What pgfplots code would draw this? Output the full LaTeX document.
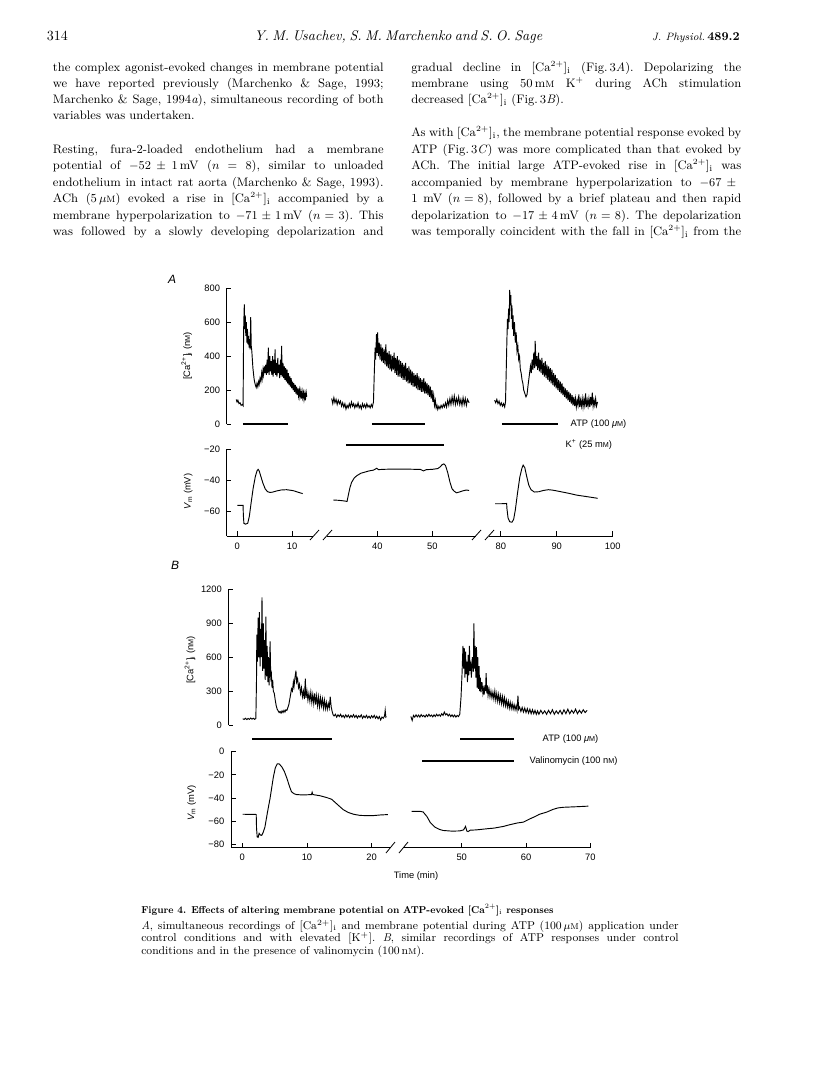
\documentclass[border=0pt]{standalone}
\usepackage{fontspec}
\setsansfont{Liberation Sans}
\usepackage{pgfplots}
\pgfplotsset{compat=1.18}

\newcommand\lab{\sffamily\fontsize{7}{8}\selectfont}
\newcommand\smM{{\fontsize{5.4}{6}\selectfont M}}
\newcommand\bodyf{\fontsize{9.2}{11}\selectfont\frenchspacing}
\newcommand\capf{\fontsize{8.5}{10}\selectfont\frenchspacing}
\newcommand\cai{[Ca$^{2+}$]$_{\mathrm{i}}$}
% one justified line of body text: x, baseline y, width (pt), text
\newcommand\jl[4]{\node[anchor=base west,inner sep=0pt,font=\bodyf] at (#1,#2) {\hbox to #3pt{#4}};}
\newcommand\nl[3]{\node[anchor=base west,inner sep=0pt,font=\bodyf] at (#1,#2) {#3};}

\pgfplotsset{
  seg/.style={scale only axis, anchor=south west, clip=false,
    axis line style={-, line width=0.6pt},
    tick style={black, line width=0.6pt},
    tick align=inside, major tick length=3.4pt,
    tick label style={font=\lab}, /pgf/number format/assume math mode=true,
    /pgf/number format/set thousands separator={},
    xticklabel style={yshift=-1.5pt}, yticklabel style={xshift=-1.5pt}},
  noyline/.style={axis y line*=left, y axis line style={draw=none}, ytick=\empty},
  trace/.style={black, line width=0.7pt, mark=none},
  bar/.style={black, line width=1.6pt, mark=none},
}

\begin{document}
\begin{tikzpicture}[x=0.75pt,y=-0.75pt]
\path (0,0) rectangle (816,1066);

% ---------- page head and text ----------
\node[anchor=base west,inner sep=0pt,font=\fontsize{10.5}{12}\selectfont] at (46.7,40.7) {314};
\node[anchor=base west,inner sep=0pt,font=\fontsize{10.5}{12}\selectfont\itshape] at (254,40.7) {\hbox to 216pt{Y. M. Usachev, S. M. Marchenko and S. O. Sage}};
\node[anchor=base east,inner sep=0pt] at (740,40.7) {{\fontsize{8}{9}\selectfont\itshape J. Physiol.}\,{\fontsize{9}{10}\selectfont\bfseries 489.2}};

\jl{52.7}{71.7}{248}{the complex agonist-evoked changes in membrane potential}
\jl{52.7}{87.7}{248}{we have reported previously (Marchenko \& Sage, 1993;}
\jl{52.7}{103.5}{248}{Marchenko \& Sage, 1994\textit{a}), simultaneous recording of both}
\nl{52.7}{119.3}{variables was undertaken.}
\jl{52.7}{153.3}{248}{Resting, fura-2-loaded endothelium had a membrane}
\jl{52.7}{169.8}{248}{potential of $-52\pm1$\,mV ($n\!=\!8$), similar to unloaded}
\jl{52.7}{186.3}{248}{endothelium in intact rat aorta (Marchenko \& Sage, 1993).}
\jl{52.7}{202.8}{248}{ACh (5\,$\mu$\textsc{m}) evoked a rise in \cai{} accompanied by a}
\jl{52.7}{219.3}{248}{membrane hyperpolarization to $-71\pm1$\,mV ($n\!=\!3$). This}
\jl{52.7}{235.8}{248}{was followed by a slowly developing depolarization and}

\jl{411}{72}{247.5}{gradual decline in \cai{} (Fig.\,3\textit{A}). Depolarizing the}
\jl{411}{87.8}{247.5}{membrane using 50\,m\textsc{m} K$^{+}$ during ACh stimulation}
\nl{411}{103.5}{decreased \cai{} (Fig.\,3\textit{B}).}
\jl{411}{136.8}{247.5}{As with \cai{}, the membrane potential response evoked by}
\jl{411}{153.3}{247.5}{ATP (Fig.\,3\textit{C}) was more complicated than that evoked by}
\jl{411}{169.8}{247.5}{ACh. The initial large ATP-evoked rise in \cai{} was}
\jl{411}{186.3}{247.5}{accompanied by membrane hyperpolarization to $-67\pm{}$}
\jl{411}{202.8}{247.5}{1 mV ($n\!=\!8$), followed by a brief plateau and then rapid}
\jl{411}{219.3}{247.5}{depolarization to $-17\pm4$\,mV ($n\!=\!8$). The depolarization}
\jl{411}{235.8}{247.5}{was temporally coincident with the fall in \cai{} from the}

% ---------- caption ----------
\node[anchor=base west,inner sep=0pt,font=\fontsize{7.5}{9}\selectfont\bfseries] at (141,913) {\scalebox{0.93}[1]{Figure 4. Effects of altering membrane potential on ATP-evoked \cai{} responses}};
\node[anchor=base west,inner sep=0pt,font=\capf] at (141,929) {\hbox to 403pt{\textit{A}, simultaneous recordings of \cai{} and membrane potential during ATP (100\,$\mu$\textsc{m}) application under}};
\node[anchor=base west,inner sep=0pt,font=\capf] at (141,941.5) {\hbox to 403pt{control conditions and with elevated [K$^{+}$]. \textit{B}, similar recordings of ATP responses under control}};
\node[anchor=base west,inner sep=0pt,font=\capf] at (141,954) {conditions and in the presence of valinomycin (100\,n\textsc{m}).};

% ---------- figure labels ----------
\node[font=\sffamily\itshape\fontsize{9}{10}\selectfont] at (172,279) {A};
\node[font=\sffamily\itshape\fontsize{9}{10}\selectfont] at (175,565) {B};
\node[rotate=90,font=\lab] at (186.7,356) {[Ca\textsuperscript{2+}]\textsubscript{i} (n\smM)};
\node[rotate=90,font=\lab] at (188.3,491.7) {\textit{V}\textsubscript{m} (mV)};
\node[rotate=90,font=\lab] at (190,660) {[Ca\textsuperscript{2+}]\textsubscript{i} (n\smM)};
\node[rotate=90,font=\lab] at (191.7,803) {\textit{V}\textsubscript{m} (mV)};
\node[font=\lab] at (416,876) {Time (min)};
\node[anchor=west,font=\lab] at (566,424) {ATP (100 \textit{μ}\smM)};
\node[anchor=west,font=\lab] at (561,445) {K\textsuperscript{+} (25 m\smM)};
\node[anchor=west,font=\lab] at (538,739) {ATP (100 \textit{μ}\smM)};
\node[anchor=west,font=\lab] at (525,761) {Valinomycin (100 n\smM)};

% axis breaks
\draw[line width=0.6pt] (310,540)--(319,530) (323,540)--(332,530)
  (472,540)--(481,530) (485,540)--(494,530)
  (386,853)--(395,842) (399,853)--(408,842);

% ================= A: [Ca2+]i =================
\begin{axis}[seg, at={(170.03pt,-318pt)}, width=64.73pt, height=101.78pt,
  xmin=-1.94, xmax=13.84, ymin=0, ymax=800,
  axis x line*=bottom, x axis line style={draw=none}, axis y line*=left,
  ytick={0,200,400,600,800}, xtick=\empty]
\addplot[trace] coordinates {(-0.2,145)(-0.05,130)(0.1,140)(0.3,120)(0.5,125)(0.7,110)(0.9,115)(1.05,108)(1.1,300)(1.15,550)(1.22,640)(1.28,705)(1.35,560)(1.45,640)(1.55,520)(1.65,600)(1.75,480)(1.85,560)(1.95,470)(2.05,520)(2.15,450)(2.25,500)(2.35,440)(2.45,630)(2.55,460)(2.65,430)(2.75,380)(2.85,330)(2.95,300)(3.05,270)(3.15,250)(3.3,230)(3.45,215)(3.6,240)(3.75,220)(3.9,250)(4.0,235)(4.15,270)(4.3,250)(4.45,300)(4.55,270)(4.7,320)(4.8,290)(4.95,340)(5.05,300)(5.2,350)(5.3,290)(5.45,380)(5.55,300)(5.67,450)(5.8,290)(5.95,400)(6.05,310)(6.2,370)(6.3,290)(6.45,400)(6.55,280)(6.7,380)(6.8,300)(6.9,440)(7.0,290)(7.15,360)(7.25,280)(7.4,390)(7.5,300)(7.65,350)(7.75,270)(7.9,380)(8.0,290)(8.1,460)(8.2,280)(8.35,360)(8.45,270)(8.6,340)(8.7,260)(8.85,330)(8.95,250)(9.1,320)(9.2,240)(9.35,300)(9.45,230)(9.6,280)(9.7,220)(9.85,270)(9.95,210)(10.1,250)(10.2,200)(10.35,240)(10.45,190)(10.6,230)(10.7,180)(10.85,220)(10.95,170)(11.1,210)(11.2,165)(11.35,200)(11.45,160)(11.6,195)(11.7,150)(11.85,190)(11.95,155)(12.1,185)(12.2,145)(12.35,180)(12.45,140)(12.6,185)(12.7,160)};
\addplot[bar] coordinates {(1.0,0)(9.2,0)};
\end{axis}

\begin{axis}[seg, hide axis, at={(245.25pt,-318pt)}, width=111.75pt, height=101.78pt,
  xmin=30.85, xmax=57.95, ymin=0, ymax=800]
\addplot[trace] coordinates {(31.7,150)(31.9,120)(32.1,155)(32.3,125)(32.5,145)(32.7,115)(32.9,140)(33.1,120)(33.3,135)(33.5,105)(33.7,125)(33.9,100)(34.1,120)(34.3,88)(34.5,110)(34.7,95)(34.9,120)(35.1,100)(35.3,130)(35.5,105)(35.7,120)(35.9,95)(36.1,115)(36.3,100)(36.5,125)(36.7,95)(36.9,110)(37.1,90)(37.3,120)(37.5,100)(37.7,115)(37.9,95)(38.1,120)(38.3,100)(38.5,110)(38.7,95)(38.9,115)(39.1,100)(39.3,130)(39.45,300)(39.6,450)(39.7,380)(39.85,530)(39.95,420)(40.05,540)(40.2,400)(40.35,480)(40.5,380)(40.65,470)(40.8,370)(40.95,450)(41.1,360)(41.25,440)(41.4,350)(41.55,470)(41.7,340)(41.85,420)(42.0,330)(42.15,430)(42.3,320)(42.45,410)(42.6,310)(42.75,400)(42.9,320)(43.05,420)(43.2,300)(43.35,390)(43.5,290)(43.65,400)(43.8,280)(43.95,380)(44.1,280)(44.25,370)(44.4,270)(44.55,360)(44.7,260)(44.85,350)(45.0,260)(45.15,360)(45.3,250)(45.45,330)(45.6,240)(45.75,340)(45.9,240)(46.05,320)(46.2,230)(46.35,310)(46.5,220)(46.65,300)(46.8,220)(46.95,290)(47.1,210)(47.25,300)(47.4,200)(47.55,280)(47.7,200)(47.85,270)(48.0,190)(48.15,260)(48.3,190)(48.45,270)(48.6,180)(48.75,250)(48.9,180)(49.05,240)(49.2,170)(49.35,230)(49.5,160)(49.65,220)(49.8,150)(49.95,200)(50.1,130)(50.25,170)(50.4,110)(50.55,140)(50.7,95)(50.85,110)(51.0,85)(51.2,105)(51.4,90)(51.6,110)(51.8,95)(52.0,115)(52.2,100)(52.4,125)(52.6,100)(52.8,140)(53.0,110)(53.2,150)(53.4,115)(53.6,160)(53.8,120)(54.0,165)(54.2,115)(54.4,150)(54.6,120)(54.8,160)(55.0,115)(55.2,145)(55.4,110)(55.6,155)(55.8,115)(56.0,150)(56.2,110)(56.4,145)(56.7,125)};
\addplot[bar] coordinates {(39.0,0)(48.6,0)};
\end{axis}

\begin{axis}[seg, hide axis, at={(366.75pt,-318pt)}, width=92.78pt, height=101.78pt,
  xmin=77.9, xmax=100, ymin=0, ymax=800]
\addplot[trace] coordinates {(78.9,140)(79.1,125)(79.3,145)(79.5,120)(79.7,135)(79.9,110)(80.1,125)(80.3,105)(80.5,120)(80.7,100)(80.85,130)(81.0,350)(81.1,500)(81.2,620)(81.3,560)(81.4,680)(81.5,600)(81.6,790)(81.7,700)(81.8,760)(81.9,620)(82.0,700)(82.1,560)(82.2,640)(82.3,520)(82.45,600)(82.6,480)(82.75,540)(82.9,430)(83.05,460)(83.2,380)(83.35,400)(83.5,320)(83.65,300)(83.8,260)(83.95,240)(84.1,200)(84.3,180)(84.5,160)(84.7,175)(84.85,220)(85.0,260)(85.15,300)(85.3,340)(85.45,300)(85.6,380)(85.75,320)(85.9,420)(86.05,330)(86.15,490)(86.3,340)(86.45,400)(86.6,320)(86.75,420)(86.9,310)(87.05,380)(87.2,300)(87.35,390)(87.5,290)(87.65,360)(87.8,280)(87.95,370)(88.1,270)(88.25,350)(88.4,260)(88.55,340)(88.7,250)(88.85,330)(89.0,240)(89.15,320)(89.3,230)(89.45,300)(89.6,220)(89.75,290)(89.9,210)(90.05,270)(90.2,200)(90.35,260)(90.5,190)(90.65,250)(90.8,180)(90.95,240)(91.1,170)(91.25,220)(91.4,160)(91.55,210)(91.7,150)(91.85,200)(92.0,140)(92.15,190)(92.3,130)(92.45,180)(92.6,120)(92.75,170)(92.9,110)(93.05,160)(93.2,105)(93.35,150)(93.5,100)(93.65,140)(93.8,110)(93.95,175)(94.1,100)(94.25,140)(94.4,105)(94.55,150)(94.7,100)(94.85,145)(95.0,110)(95.15,180)(95.3,100)(95.45,140)(95.6,105)(95.75,150)(95.9,100)(96.05,160)(96.2,110)(96.35,185)(96.5,105)(96.65,140)(96.8,110)(96.95,150)(97.1,105)(97.3,130)};
\addplot[bar] coordinates {(80.2,0)(90.3,0)};
\end{axis}

% ================= A: Vm =================
\begin{axis}[seg, at={(170.03pt,-402pt)}, width=64.73pt, height=65.25pt,
  xmin=-1.94, xmax=13.84, ymin=-75.6, ymax=-20,
  axis x line*=bottom, axis y line*=left, xtick={0,10},
  ytick={-60,-40,-20}, yticklabels={−60,−40,−20}]
\addplot[trace] coordinates {(0,-56)(1.05,-56)(1.1,-62)(1.2,-67.5)(1.5,-68)(1.9,-67.5)(2.2,-63)(2.5,-55)(2.9,-45)(3.3,-37.5)(3.6,-34)(3.8,-33)(4.0,-34)(4.3,-37.5)(4.7,-42)(5.1,-45.5)(5.5,-47.2)(6.0,-47.8)(6.5,-47.5)(7.2,-46.8)(8.0,-46.2)(9.0,-46)(10.2,-46.6)(11.0,-47.5)(11.95,-48.5)};
\end{axis}

\begin{axis}[seg, noyline, at={(245.25pt,-402pt)}, width=111.75pt, height=65.25pt,
  xmin=30.85, xmax=57.95, ymin=-75.6, ymax=-20,
  axis x line*=bottom, xtick={40,50}]
\addplot[trace] coordinates {(32,-52.6)(33,-52.8)(34,-53.2)(34.5,-53.5)(34.7,-50)(35.0,-45)(35.3,-41.5)(35.8,-38.5)(36.3,-37)(37,-35.5)(37.5,-35)(38.5,-34)(39.3,-33.5)(39.9,-32.3)(40.2,-33.2)(41,-33)(43,-32.8)(45,-32.8)(47,-33)(47.8,-33)(48.4,-34)(48.9,-33.2)(50,-33)(51,-32.5)(51.4,-31.5)(51.8,-30)(52.1,-29.5)(52.4,-30.5)(52.8,-35)(53.2,-41)(53.6,-45.5)(54.0,-47)(54.4,-48)(54.9,-47.5)(55.5,-46.8)(56.2,-46.2)(56.7,-46.5)};
\addplot[bar] coordinates {(34.3,-17.4)(52.2,-17.4)};
\end{axis}

\begin{axis}[seg, noyline, at={(366.75pt,-402pt)}, width=92.78pt, height=65.25pt,
  xmin=77.9, xmax=100, ymin=-75.6, ymax=-20,
  axis x line*=bottom, xtick={80,90,100}]
\addplot[trace] coordinates {(79,-55)(80,-55)(81.05,-54.8)(81.1,-58)(81.3,-64)(81.6,-66.5)(82.0,-66.8)(82.3,-65)(82.6,-59)(83.0,-48)(83.4,-38)(83.8,-32)(84.0,-30.3)(84.3,-32)(84.6,-37)(85.0,-43)(85.4,-46)(86.0,-47.5)(86.8,-47.3)(87.6,-46.5)(88.5,-46)(89.3,-46.3)(90.6,-47.2)(92,-48.2)(93.6,-49.5)(95.5,-50.5)(97.3,-51.5)};
\end{axis}

% ================= B: [Ca2+]i =================
\begin{axis}[seg, at={(171.375pt,-543.75pt)}, width=121.88pt, height=101.7pt,
  xmin=-2.13, xmax=23.0, ymin=0, ymax=1200,
  axis x line*=bottom, x axis line style={draw=none}, axis y line*=left,
  ytick={0,300,600,900,1200}, xtick=\empty]
\addplot[trace] coordinates {(0.06,55)(0.3,50)(0.5,60)(0.7,48)(0.9,58)(1.1,50)(1.3,62)(1.5,52)(1.7,60)(1.9,50)(2.1,58)(2.2,400)(2.25,800)(2.35,560)(2.45,950)(2.55,600)(2.65,1000)(2.75,520)(2.85,850)(2.95,600)(3.05,1130)(3.15,480)(3.25,900)(3.35,500)(3.45,750)(3.55,400)(3.65,960)(3.75,430)(3.85,700)(3.95,380)(4.05,600)(4.15,350)(4.3,740)(4.4,420)(4.5,450)(4.6,330)(4.7,400)(4.8,300)(4.95,280)(5.1,220)(5.25,170)(5.4,140)(5.55,125)(5.7,110)(5.85,120)(6.0,105)(6.15,125)(6.3,110)(6.45,130)(6.6,115)(6.75,135)(6.9,130)(7.05,155)(7.2,180)(7.35,230)(7.5,280)(7.6,320)(7.75,300)(7.9,380)(8.0,340)(8.15,420)(8.3,480)(8.4,380)(8.55,410)(8.7,330)(8.85,360)(9.0,280)(9.15,330)(9.3,250)(9.45,300)(9.6,230)(9.75,410)(9.85,240)(10.0,300)(10.15,220)(10.3,280)(10.45,210)(10.6,290)(10.75,200)(10.9,270)(11.05,190)(11.2,280)(11.35,180)(11.5,260)(11.65,170)(11.8,250)(11.95,160)(12.1,240)(12.25,170)(12.4,230)(12.55,150)(12.7,220)(12.85,145)(13.0,200)(13.15,140)(13.3,190)(13.45,150)(13.6,250)(13.75,160)(13.9,120)(14.05,90)(14.2,80)(14.4,95)(14.6,70)(14.8,90)(15.0,75)(15.2,95)(15.4,70)(15.6,85)(15.8,65)(16.0,90)(16.2,70)(16.4,88)(16.6,65)(16.8,85)(17.0,70)(17.2,92)(17.4,68)(17.6,85)(17.8,62)(18.0,82)(18.2,70)(18.4,90)(18.6,60)(18.8,80)(19.0,65)(19.2,85)(19.4,62)(19.6,78)(19.8,60)(20.0,82)(20.2,65)(20.4,85)(20.6,60)(20.8,78)(21.0,55)(21.2,75)(21.4,45)(21.6,70)(21.8,60)(22.0,80)(22.1,130)(22.2,70)(22.3,75)};
\addplot[bar] coordinates {(1.55,-124)(13.8,-124)};
\end{axis}

\begin{axis}[seg, hide axis, at={(302.85pt,-543.75pt)}, width=139.9pt, height=101.7pt,
  xmin=41, xmax=70, ymin=0, ymax=1200]
\addplot[trace] coordinates {(42.1,75)(42.3,40)(42.5,85)(42.7,70)(42.9,90)(43.1,72)(43.3,88)(43.5,70)(43.7,92)(43.9,75)(44.1,85)(44.3,70)(44.5,90)(44.7,75)(44.9,95)(45.1,78)(45.3,88)(45.5,72)(45.7,90)(45.9,75)(46.1,95)(46.3,80)(46.5,92)(46.7,78)(46.9,100)(47.1,85)(47.3,115)(47.5,90)(47.7,100)(47.9,80)(48.1,95)(48.3,75)(48.5,90)(48.7,72)(48.9,88)(49.1,70)(49.3,85)(49.5,75)(49.7,95)(49.9,250)(50.05,450)(50.2,700)(50.3,500)(50.4,680)(50.5,420)(50.6,650)(50.7,450)(50.8,560)(50.9,380)(51.0,620)(51.1,440)(51.2,700)(51.3,480)(51.4,560)(51.5,420)(51.65,600)(51.8,470)(51.9,900)(52.0,500)(52.1,700)(52.2,420)(52.3,690)(52.4,330)(52.5,600)(52.6,320)(52.7,520)(52.8,300)(52.9,420)(53.0,290)(53.15,380)(53.3,280)(53.4,320)(53.5,270)(53.6,350)(53.7,300)(53.8,460)(53.9,280)(54.0,350)(54.1,260)(54.25,320)(54.4,250)(54.55,300)(54.7,240)(54.85,290)(55.0,230)(55.15,300)(55.3,220)(55.45,280)(55.6,210)(55.75,270)(55.9,200)(56.05,260)(56.2,190)(56.35,250)(56.5,180)(56.65,240)(56.8,170)(56.95,220)(57.1,160)(57.25,210)(57.4,150)(57.55,200)(57.7,145)(57.85,190)(58.0,140)(58.15,180)(58.3,135)(58.45,170)(58.6,130)(58.75,260)(58.85,140)(59.0,160)(59.2,120)(59.4,155)(59.6,115)(59.8,150)(60.0,110)(60.2,145)(60.4,105)(60.6,140)(60.8,100)(61.0,135)(61.2,100)(61.4,130)(61.6,95)(61.8,125)(62.0,95)(62.3,130)(62.6,100)(62.9,125)(63.2,95)(63.5,130)(63.8,100)(64.1,135)(64.4,95)(64.7,125)(65.0,100)(65.3,130)(65.6,95)(65.9,135)(66.2,100)(66.5,140)(66.8,100)(67.1,130)(67.4,105)(67.7,140)(68.0,100)(68.3,130)(68.6,105)(68.9,135)(69.2,110)(69.5,130)};
\addplot[bar] coordinates {(49.8,-124)(58.2,-124)};
\end{axis}

% ================= B: Vm =================
\begin{axis}[seg, at={(173.25pt,-635.775pt)}, width=120pt, height=72pt,
  xmin=-1.75, xmax=23.0, ymin=-82.9, ymax=0,
  axis x line*=bottom, axis y line*=left, xtick={0,10,20},
  ytick={-80,-60,-40,-20,0}, yticklabels={−80,−60,−40,−20,0}]
\addplot[trace] coordinates {(0.06,-54)(2.15,-54.2)(2.2,-66)(2.3,-73.5)(2.45,-74)(2.6,-70.5)(2.8,-72)(3.0,-72.2)(3.2,-70)(3.5,-65)(3.9,-52)(4.3,-40)(4.8,-22)(5.1,-14)(5.4,-10.5)(5.7,-10.5)(6.1,-13)(6.5,-17)(6.9,-23)(7.3,-30)(7.6,-34.5)(8.0,-36.3)(8.4,-37)(9.2,-37.3)(10.0,-37.2)(10.7,-37)(10.8,-35)(10.9,-37)(12.0,-38)(13.0,-39.5)(13.8,-41)(14.6,-45)(15.6,-50)(16.4,-52.5)(17.2,-54)(18.2,-55)(19.2,-55.2)(20.2,-55.2)(21.4,-54.6)(22.5,-54.3)};
\end{axis}

\begin{axis}[seg, noyline, at={(302.85pt,-635.775pt)}, width=139.9pt, height=72pt,
  xmin=41, xmax=70, ymin=-82.9, ymax=0,
  axis x line*=bottom, xtick={50,60,70}]
\addplot[trace] coordinates {(42.2,-51.5)(43.5,-51.5)(44.0,-52)(44.6,-56)(45.1,-61)(45.8,-65)(46.5,-67)(47.1,-68)(48.5,-68.6)(49.7,-68.4)(50.3,-67.5)(50.6,-64.5)(50.8,-68.5)(51.0,-69)(51.3,-67.8)(52.3,-67.5)(54,-66.5)(55,-66)(56.5,-64.5)(57.5,-63)(58.7,-61.5)(59.6,-60.8)(60.6,-58)(61.4,-56)(62.1,-54)(63.2,-52.2)(64.2,-49.8)(65.0,-48.5)(65.8,-48)(67.9,-47.5)(69.7,-47)};
\addplot[bar] coordinates {(43.9,-8.0)(58.1,-8.0)};
\end{axis}
\end{tikzpicture}
\end{document}
